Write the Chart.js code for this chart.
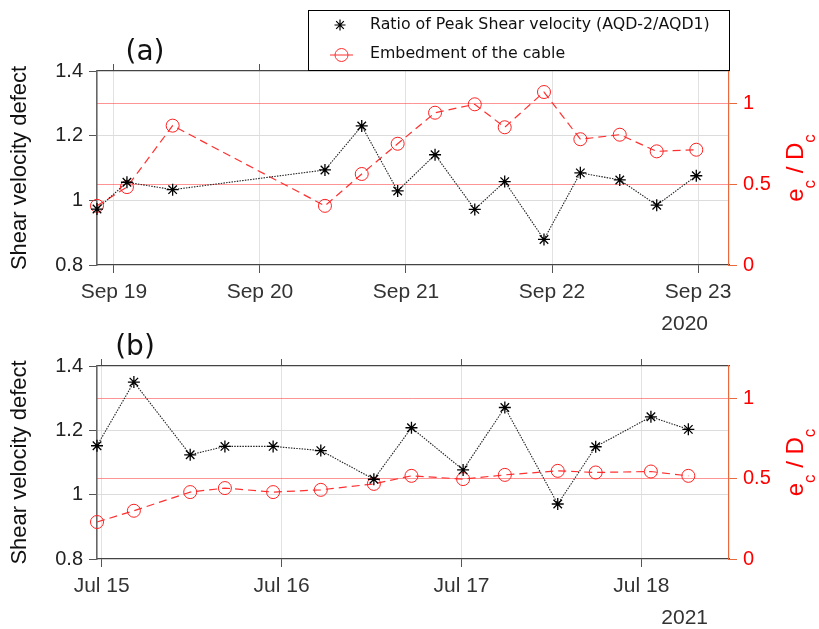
<!DOCTYPE html>
<html>
<head>
<meta charset="utf-8">
<script src="https://cdn.jsdelivr.net/npm/chart.js@4.4.0/dist/chart.umd.min.js"></script>
<style>
  html, body { margin: 0; padding: 0; background: #fff; }
  #wrap { position: relative; width: 819px; height: 629px; overflow: hidden; }
  canvas { position: absolute; left: 0; }
  #panelA { top: 0; }
  #panelB { top: 320px; }
</style>
</head>
<body>
<div id="wrap">
  <canvas id="panelA" width="819" height="340"></canvas>
  <canvas id="panelB" width="819" height="309"></canvas>
</div>
<script>
// Panel (a) - Sept 2020, x is in days counted from Sep 19 00:00
const sepTicks = [0, 1, 2, 3, 4];
const sepTickLabels = ['Sep 19', 'Sep 20', 'Sep 21', 'Sep 22', 'Sep 23'];
const sepDays = [-0.116, 0.089, 0.402, 1.445, 1.697, 1.943, 2.199, 2.471, 2.676, 2.945, 3.194, 3.464, 3.717, 3.988];
const sepRatio = [0.973, 1.056, 1.033, 1.094, 1.230, 1.029, 1.141, 0.972, 1.058, 0.879, 1.085, 1.063, 0.985, 1.076];
const sepEmbed = [0.366, 0.482, 0.862, 0.366, 0.563, 0.750, 0.942, 0.994, 0.852, 1.070, 0.778, 0.806, 0.703, 0.713];

// Panel (b) - July 2021, x is in days counted from Jul 15 00:00
const julTicks = [0, 1, 2, 3];
const julTickLabels = ['Jul 15', 'Jul 16', 'Jul 17', 'Jul 18'];
const julDays = [-0.026, 0.179, 0.492, 0.685, 0.953, 1.218, 1.513, 1.722, 2.009, 2.241, 2.535, 2.746, 3.053, 3.261];
const julRatio = [1.152, 1.350, 1.124, 1.150, 1.150, 1.137, 1.048, 1.208, 1.077, 1.271, 0.971, 1.149, 1.242, 1.203];
const julEmbed = [0.230, 0.300, 0.416, 0.441, 0.416, 0.430, 0.467, 0.517, 0.497, 0.523, 0.548, 0.538, 0.544, 0.517];

// Shared axes
const defectTicks = [0.8, 1, 1.2, 1.4];
const defectLabels = ['0.8', '1', '1.2', '1.4'];
const embedTicks = [0, 0.5, 1];
const embedLabels = ['0', '0.5', '1'];
const seriesNames = ['Ratio of Peak Shear velocity (AQD-2/AQD1)', 'Embedment of the cable'];

Chart.defaults.font.family = '"Liberation Sans", Arial, sans-serif';
Chart.defaults.color = '#333';

const axisGray = '#555';
const rightAxisColor = '#e8693e';

// draws the panel letter, the year, the right axis title and (for panel a) the legend
const overlay = {
  id: 'overlay',
  afterDraw(chart, args, o) {
    const ctx = chart.ctx;
    const area = chart.chartArea;
    ctx.save();

    ctx.fillStyle = '#111';
    ctx.font = '28px "DejaVu Sans"';
    ctx.textAlign = 'center';
    ctx.textBaseline = 'alphabetic';
    ctx.fillText(o.tag, o.tagX, o.tagY);

    ctx.fillStyle = '#333';
    ctx.font = '21px "Liberation Sans"';
    ctx.textAlign = 'right';
    ctx.fillText(o.year, area.right - 21, area.bottom + 65);

    // e_c / D_c with subscripts, rotated
    const parts = [['e', false], ['c', true], [' / D', false], ['c', true]];
    const big = '24px "Liberation Sans"';
    const small = '17px "Liberation Sans"';
    let total = 0;
    parts.forEach(p => { ctx.font = p[1] ? small : big; total += ctx.measureText(p[0]).width; });
    ctx.save();
    ctx.translate(area.right + 74, (area.top + area.bottom) / 2);
    ctx.rotate(-Math.PI / 2);
    ctx.fillStyle = '#ff0000';
    ctx.textAlign = 'left';
    let px = -total / 2;
    parts.forEach(p => {
      ctx.font = p[1] ? small : big;
      ctx.fillText(p[0], px, p[1] ? 12 : 0);
      px += ctx.measureText(p[0]).width;
    });
    ctx.restore();

    if (o.legend) {
      ctx.fillStyle = '#fff';
      ctx.fillRect(308, 10, 422, 60);
      ctx.strokeStyle = '#000';
      ctx.lineWidth = 1;
      ctx.strokeRect(308.5, 10.5, 421, 60);

      // star marker
      const sx = 340, sy = 25, r = 5.5, d = r * 0.7;
      ctx.strokeStyle = '#000';
      ctx.lineWidth = 1.2;
      ctx.beginPath();
      ctx.moveTo(sx - r, sy); ctx.lineTo(sx + r, sy);
      ctx.moveTo(sx, sy - r); ctx.lineTo(sx, sy + r);
      ctx.moveTo(sx - d, sy - d); ctx.lineTo(sx + d, sy + d);
      ctx.moveTo(sx - d, sy + d); ctx.lineTo(sx + d, sy - d);
      ctx.stroke();

      // circle marker with line
      ctx.strokeStyle = '#ff3030';
      ctx.lineWidth = 1;
      ctx.beginPath();
      ctx.moveTo(330, 55); ctx.lineTo(353, 55);
      ctx.stroke();
      ctx.beginPath();
      ctx.arc(341.5, 55, 6.5, 0, Math.PI * 2);
      ctx.stroke();

      ctx.fillStyle = '#111';
      ctx.font = '15.8px "DejaVu Sans"';
      ctx.textAlign = 'left';
      ctx.textBaseline = 'middle';
      ctx.fillText(seriesNames[0], 370, 25);
      ctx.fillText(seriesNames[1], 370, 54);
    }
    ctx.restore();
  }
};

function fixTicks(values) {
  return scale => { scale.ticks = values.map(v => ({ value: v })); };
}

function makePanel(id, o) {
  const ratioPts = o.days.map((d, i) => ({ x: d, y: o.ratio[i] }));
  const embedPts = o.days.map((d, i) => ({ x: d, y: o.embed[i] }));

  return new Chart(document.getElementById(id), {
    type: 'line',
    data: {
      datasets: [
        {
          label: seriesNames[0],
          data: ratioPts,
          yAxisID: 'y',
          order: 1,
          borderColor: '#222',
          borderWidth: 1.1,
          borderDash: [1.5, 1.2],
          pointStyle: 'star',
          pointRadius: 6,
          pointBorderColor: '#000',
          pointBorderWidth: 1.3,
          pointBackgroundColor: 'rgba(0,0,0,0)',
          clip: false,
        },
        {
          label: seriesNames[1],
          data: embedPts,
          yAxisID: 'y1',
          order: 2,
          borderColor: '#ff3030',
          borderWidth: 1.2,
          borderDash: [8, 5],
          pointStyle: 'circle',
          pointRadius: 6.5,
          pointBorderColor: '#ff2020',
          pointBorderWidth: 1,
          pointBackgroundColor: 'rgba(0,0,0,0)',
          clip: false,
        },
      ],
    },
    options: {
      responsive: false,
      animation: false,
      events: [],
      layout: { padding: 0 },
      scales: {
        x: {
          type: 'linear',
          position: 'bottom',
          min: o.min,
          max: o.max,
          afterBuildTicks: fixTicks(o.ticks),
          afterFit: s => { s.height = o.bottomH; },
          ticks: {
            callback: (v, i) => o.tickLabels[i],
            font: { size: 21 },
            color: '#333',
            padding: 7,
            maxRotation: 0,
          },
          grid: { color: '#e2e2e2', tickColor: axisGray, tickLength: 8 },
          border: { color: '#444', width: 1.2 },
        },
        x2: {
          type: 'linear',
          position: 'top',
          min: o.min,
          max: o.max,
          afterBuildTicks: fixTicks(o.ticks),
          afterFit: s => { s.height = o.topH; },
          ticks: { display: false },
          grid: { drawOnChartArea: false, tickColor: axisGray, tickLength: 7 },
          border: { color: '#444', width: 1.2 },
        },
        y: {
          type: 'linear',
          position: 'left',
          min: 0.8,
          max: 1.4,
          afterBuildTicks: fixTicks(defectTicks),
          afterFit: s => { s.width = 97; },
          ticks: {
            callback: (v, i) => defectLabels[i],
            font: { size: 20 },
            color: '#222',
            padding: 6,
          },
          grid: {
            color: c => (c.tick.value === 0.8 || c.tick.value === 1.4) ? 'rgba(0,0,0,0)' : '#dcdcdc',
            tickColor: axisGray,
            tickLength: 8,
          },
          border: { color: '#666', width: 1.6 },
          title: {
            display: true,
            text: 'Shear velocity defect',
            font: { size: 22 },
            color: '#111',
            padding: { top: 7, bottom: 0 },
          },
        },
        y1: {
          type: 'linear',
          position: 'right',
          min: 0,
          max: 1.2,
          afterBuildTicks: fixTicks(embedTicks),
          afterFit: s => { s.width = 90; },
          ticks: {
            callback: (v, i) => embedLabels[i],
            font: { size: 20 },
            color: '#ff0000',
            padding: 6,
          },
          grid: {
            color: c => c.tick.value === 0 ? 'rgba(0,0,0,0)' : 'rgba(255,60,60,0.55)',
            tickColor: rightAxisColor,
            tickLength: 8,
          },
          border: { color: rightAxisColor, width: 1.2 },
        },
      },
      plugins: {
        legend: { display: false },
        title: { display: false },
        tooltip: { enabled: false },
        overlay: o.overlay,
      },
    },
    plugins: [overlay],
  });
}

makePanel('panelA', {
  days: sepDays, ratio: sepRatio, embed: sepEmbed,
  ticks: sepTicks, tickLabels: sepTickLabels,
  min: -0.116, max: 4.212,
  topH: 71, bottomH: 75,
  overlay: { tag: '(a)', tagX: 145, tagY: 60, year: '2020', legend: true },
});

makePanel('panelB', {
  days: julDays, ratio: julRatio, embed: julEmbed,
  ticks: julTicks, tickLabels: julTickLabels,
  min: -0.026, max: 3.487,
  topH: 46, bottomH: 70,
  overlay: { tag: '(b)', tagX: 135, tagY: 35, year: '2021', legend: false },
});
</script>
</body>
</html>
